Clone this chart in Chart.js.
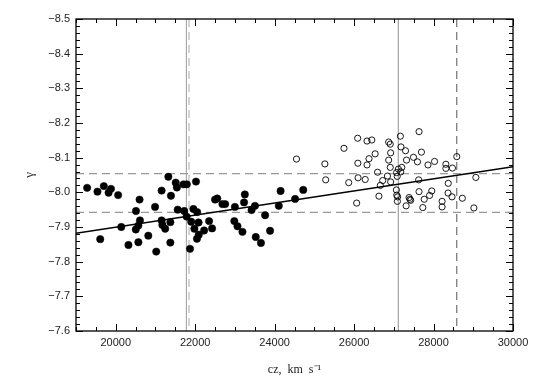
<!DOCTYPE html>
<html><head><meta charset="utf-8">
<script src="https://cdn.jsdelivr.net/npm/chart.js@4/dist/chart.umd.min.js"></script>
<style>html,body{margin:0;padding:0;background:#fff}canvas{display:block}</style>
</head><body>
<canvas id="c" width="543" height="377"></canvas>
<script>
// Filled circles (lower-cz group)
const filledX = [19280,19540,19700,19820,19880,20060,19610,20140,20320,20600,20510,20610,20570,20505,20570,20820,20990,21020,21155,21325,21390,21510,21540,21155,21175,21245,21375,21375,21560,21705,21790,22020,21725,21785,21870,21900,21955,22050,21980,22085,22090,22045,22225,22350,22425,22500,22555,22685,22755,23000,22985,23065,23190,23250,23230,23420,23505,23525,23655,23760,23885,24105,24150,24515,24720];
const filledY = [-8.013,-8.002,-8.018,-7.999,-8.010,-7.992,-7.865,-7.900,-7.848,-7.979,-7.946,-7.919,-7.904,-7.893,-7.856,-7.875,-7.958,-7.829,-8.005,-8.045,-7.990,-8.028,-8.014,-7.919,-7.906,-7.895,-7.914,-7.855,-7.950,-8.023,-8.023,-8.031,-7.946,-7.930,-7.837,-7.915,-7.952,-7.943,-7.895,-7.913,-7.878,-7.866,-7.890,-7.917,-7.896,-7.979,-7.982,-7.966,-7.966,-7.958,-7.917,-7.902,-7.886,-7.994,-7.971,-7.949,-7.961,-7.871,-7.854,-7.934,-7.889,-7.961,-8.004,-7.981,-8.007];
// Open circles (higher-cz group)
const openX = [24550,25265,25285,25745,25865,26065,26090,26095,26100,26280,26325,26445,26325,26375,26530,26590,26625,26660,26720,26840,26870,26910,26920,26870,26910,26920,27065,27075,27095,27090,27115,27200,27070,27175,27085,27165,27180,27295,27320,27495,27595,27635,27695,27860,28025,27625,27635,27385,27405,27425,27310,27765,27900,27955,27730,28215,28215,28365,28465,28725,29015,28370,28310,28310,28475,28585,29065];
const openY = [-8.096,-8.082,-8.036,-8.127,-8.028,-7.969,-8.156,-8.084,-8.042,-8.037,-8.148,-8.151,-8.079,-8.097,-8.111,-8.058,-7.989,-8.020,-8.034,-8.047,-8.145,-8.139,-8.114,-8.093,-8.072,-8.030,-8.007,-7.992,-7.987,-7.974,-8.067,-8.072,-8.057,-8.059,-8.046,-8.162,-8.131,-8.120,-8.093,-8.101,-8.088,-8.175,-8.116,-8.079,-8.089,-8.036,-8.002,-7.985,-7.980,-7.977,-7.961,-7.980,-7.991,-8.004,-7.956,-7.974,-7.958,-7.998,-7.987,-7.983,-7.955,-8.026,-8.081,-8.069,-8.070,-8.103,-8.043];
// Fitted line
const fitX = [19000, 30000];
const fitY = [-7.882, -8.074];
// Reference lines
const hLevels = [-8.054, -7.942];
const vSolid = [21780, 27115];
const vDashLight = [21845];
const vDashDark = [28585];
// Axes
const xRange = [19000, 30000];
const yRange = [-8.5, -7.6];
const xTicks = [20000, 22000, 24000, 26000, 28000, 30000];
const yTicks = [-8.5, -8.4, -8.3, -8.2, -8.1, -8.0, -7.9, -7.8, -7.7, -7.6];

const pts = (xs, ys) => xs.map((v, i) => ({x: v, y: ys[i]}));
const lineDs = (data, color, dash, width, order) => ({
  data, showLine: true, borderColor: color, borderWidth: width, borderDash: dash,
  pointRadius: 0, pointHoverRadius: 0, fill: false, order
});

const datasets = [
  {data: pts(filledX, filledY), pointRadius: 3.7, pointBackgroundColor: '#000', pointBorderColor: '#000', pointBorderWidth: 0.5, showLine: false, order: 0},
  {data: pts(openX, openY), pointRadius: 3.1, pointBackgroundColor: 'rgba(255,255,255,0)', pointBorderColor: '#000', pointBorderWidth: 0.9, showLine: false, order: 0},
  lineDs(pts(fitX, fitY), '#000', [], 1.4, 1),
];
hLevels.forEach(h => datasets.push(lineDs(pts(xRange, [h, h]), '#999', [8, 5], 1.2, 2)));
vSolid.forEach(v => datasets.push(lineDs(pts([v, v], yRange), '#aaa', [], 1, 2)));
vDashLight.forEach(v => datasets.push(lineDs(pts([v, v], yRange), '#aaa', [8, 5], 1, 2)));
vDashDark.forEach(v => datasets.push(lineDs(pts([v, v], yRange), '#555', [8, 5], 1, 2)));

const framePlugin = {
  id: 'frame',
  afterDatasetsDraw(chart) {
    const {ctx, chartArea: a, scales: {x, y}} = chart;
    ctx.save();
    ctx.strokeStyle = '#000';
    ctx.lineWidth = 1;
    const seg = (x1, y1, x2, y2) => { ctx.beginPath(); ctx.moveTo(x1, y1); ctx.lineTo(x2, y2); ctx.stroke(); };
    for (let i = 0; i <= 22; i++) {
      const v = xRange[0] + i * 500;
      const px = Math.round(x.getPixelForValue(v)) + 0.5;
      const L = (v % 2000 === 0) ? 7 : 4;
      seg(px, a.bottom, px, a.bottom - L);
      seg(px, a.top, px, a.top + L);
    }
    for (let i = 0; i <= 45; i++) {
      const v = yRange[0] + i * 0.02;
      const py = Math.round(y.getPixelForValue(v)) + 0.5;
      const L = (i % 5 === 0) ? 7 : 4;
      seg(a.left, py, a.left + L, py);
      seg(a.right, py, a.right - L, py);
    }
    ctx.lineWidth = 1.3;
    ctx.strokeRect(a.left, a.top, a.right - a.left, a.bottom - a.top);
    ctx.restore();
  }
};

const tickFont = {family: "'Liberation Sans', Arial, sans-serif", size: 11};
new Chart(document.getElementById('c'), {
  type: 'scatter',
  data: {datasets},
  plugins: [framePlugin],
  options: {
    responsive: false, animation: false, devicePixelRatio: 1,
    layout: {padding: {left: 0, top: 19, right: 30, bottom: 0}},
    plugins: {legend: {display: false}, tooltip: {enabled: false}},
    scales: {
      x: {
        type: 'linear', min: xRange[0], max: xRange[1],
        grid: {display: false, drawTicks: false}, border: {display: false},
        afterBuildTicks: s => { s.ticks = xTicks.map(v => ({value: v})); },
        afterFit: s => { s.height = 46; },
        ticks: {font: tickFont, color: '#222', padding: 5, maxRotation: 0, callback: v => String(v)},
        title: {display: true, text: 'cz,  km  s\u207B\u00B9', color: '#222',
          font: {family: "'Liberation Serif', 'Times New Roman', serif", size: 12}, padding: {top: 13, bottom: 0}}
      },
      y: {
        type: 'linear', min: yRange[0], max: yRange[1], reverse: true,
        grid: {display: false, drawTicks: false}, border: {display: false},
        afterBuildTicks: s => { s.ticks = yTicks.map(v => ({value: v})); },
        afterFit: s => { s.width = 76; },
        ticks: {font: tickFont, color: '#222', padding: 6, callback: v => Number(v).toFixed(1).replace('-', '\u2212')},
        title: {display: true, text: '\u03B3', color: '#222',
          font: {family: "'Liberation Serif', 'Times New Roman', serif", size: 13}, padding: {top: 22, bottom: 0}}
      }
    }
  }
});
</script>
</body></html>
